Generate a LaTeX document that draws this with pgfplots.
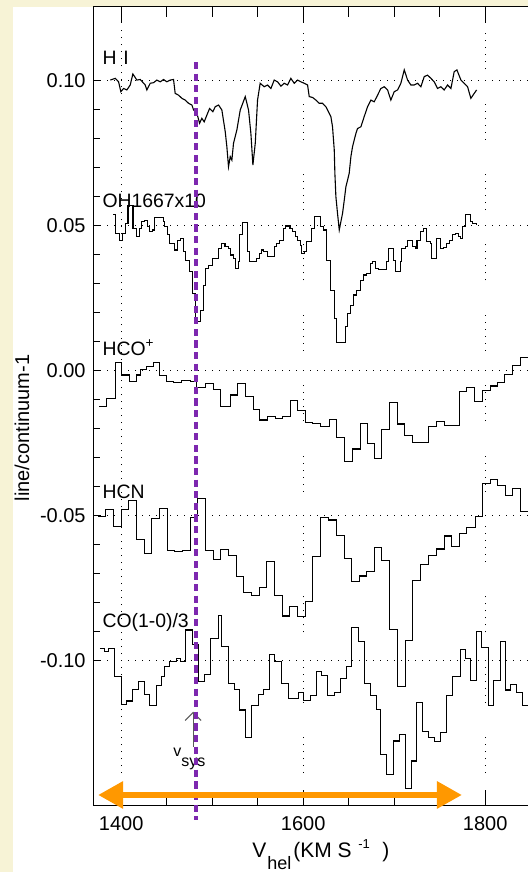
\documentclass[border=0pt]{standalone}
\usepackage{pgfplots}
\pgfplotsset{compat=1.18}
\usepackage{fontspec}
\setmainfont{Liberation Sans}
\usetikzlibrary{arrows.meta}

\definecolor{paper}{RGB}{247,243,214}
\definecolor{vsysline}{RGB}{125,40,175}
\definecolor{rangearrow}{RGB}{255,152,0}

\tikzset{
  dotgrid/.style={black, line width=0.5pt, dash pattern=on 0.5pt off 3pt},
  groupgrid/.style={black, line width=0.5pt,
    dash pattern=on 0.5pt off 3pt on 0.5pt off 3pt on 0.5pt off 3pt on 0.5pt off 3pt on 0.5pt off 3pt on 0.5pt off 17.2pt},
}
\pgfplotsset{
  specaxis/.style={
    at={(46.5pt,33pt)}, anchor=south west,
    scale only axis, width=217.5pt, height=399.5pt,
    xmin=1369, xmax=1847, ymin=-0.1502, ymax=0.1253,
    axis line style={black, line width=0.5pt},
    tick style={black, line width=0.55pt},
  },
}

\begin{document}
\begin{tikzpicture}
\fill[paper] (0,0) rectangle (264pt,436pt);
\fill[white] (6.5pt,0) rectangle (264pt,432.5pt);

% velocity axis ticks and labels (drawn first, under the spectra)
\begin{axis}[specaxis,
  hide y axis,
  axis x line*=box,
  xtick={1400,1600,1800}, xticklabels={1400,1600,1800},
  minor x tick num=3,
  major tick length=8pt, minor tick length=5pt,
  xticklabel style={font=\fontsize{10}{12}\selectfont, inner sep=0pt, yshift=-5pt},
]
\end{axis}

% main axis: spectra, y ticks and grid
\begin{axis}[specaxis,
  axis x line*=box, axis y line*=left,
  xtick=\empty,
  ytick={-0.10,-0.05,0,0.05,0.10},
  yticklabels={-0.10,-0.05,0.00,0.05,0.10},
  minor y tick num=4,
  major tick length=4pt, minor tick length=3.5pt,
  ymajorgrids,
  major grid style={dotgrid},
  yticklabel style={font=\fontsize{10}{12}\selectfont, inner sep=0pt, xshift=-3.5pt},
  clip mode=individual,
  every axis plot/.append style={black, line width=0.55pt},
]
\draw[dotgrid] (axis cs:1400,-0.1389) -- (axis cs:1400,0.1184);
\draw[groupgrid] (axis cs:1600,-0.1389) -- (axis cs:1600,0.1167);
\draw[groupgrid] (axis cs:1800,-0.1389) -- (axis cs:1800,0.1167);

% H I
\addplot[sharp plot] table {
1388 0.1001
1393.4 0.1007
1397.1 0.0995
1399.6 0.0961
1402.6 0.0972
1406.2 0.0967
1409.9 0.0984
1412.8 0.1022
1417.2 0.1001
1420.9 0.1003
1426.4 0.0984
1428.2 0.0967
1431.9 0.0990
1435.5 0.0992
1439.2 0.1001
1442.9 0.0995
1446.5 0.1003
1450.2 0.0995
1453.8 0.1001
1457.5 0.1003
1459.3 0.0955
1463.0 0.0949
1466.7 0.0938
1470.3 0.0932
1474.0 0.0921
1477.7 0.0915
1479.5 0.0898
1483.2 0.0886
1486.1 0.0852
1488.6 0.0869
1491.2 0.0857
1494.1 0.0880
1497.1 0.0903
1500.7 0.0892
1503.3 0.0909
1507.0 0.0915
1510.6 0.0898
1514.3 0.0823
1516.1 0.0771
1517.9 0.0702
1519.8 0.0737
1521.6 0.0725
1523.4 0.0783
1527.1 0.0829
1530.8 0.0898
1536.3 0.0944
1539.9 0.0898
1542.5 0.0817
1544.7 0.0708
1547.3 0.0783
1549.8 0.0932
1552.7 0.0990
1557.1 0.0978
1560.8 0.0984
1564.5 0.0972
1568.1 0.1001
1571.8 0.0995
1575.5 0.0980
1579.1 0.0990
1582.8 0.0984
1586.4 0.1007
1590.1 0.0990
1593.8 0.1001
1597.4 0.0995
1601.1 0.0990
1604.8 0.0984
1606.6 0.0944
1610.3 0.0941
1613.9 0.0932
1617.6 0.0921
1621.2 0.0921
1624.9 0.0909
1626.7 0.0898
1630.4 0.0875
1632.2 0.0840
1634.1 0.0760
1634.8 0.0679
1635.9 0.0599
1637.7 0.0541
1639.6 0.0484
1641.4 0.0513
1643.2 0.0541
1645.1 0.0587
1646.9 0.0633
1650.5 0.0679
1652.4 0.0737
1654.2 0.0771
1656.0 0.0794
1657.9 0.0817
1659.7 0.0834
1663.4 0.0840
1667.0 0.0875
1670.7 0.0909
1674.4 0.0932
1678.0 0.0926
1681.7 0.0949
1685.3 0.0972
1689.0 0.0978
1692.7 0.0967
1696.3 0.0932
1700.0 0.0961
1703.7 0.0967
1707.3 0.0990
1711.0 0.1036
1714.7 0.1001
1718.3 0.0984
1722.0 0.0984
1725.6 0.0990
1729.3 0.0978
1733.0 0.1013
1736.6 0.1018
1740.3 0.1007
1743.9 0.0995
1747.6 0.0972
1751.3 0.0978
1754.9 0.0967
1758.6 0.0984
1762.3 0.0972
1765.9 0.1030
1768.9 0.1036
1773.3 0.1001
1776.9 0.0990
1780.6 0.0978
1784.2 0.0938
1787.9 0.0955
1790.5 0.0967
};

% OH 1667 x 10
\addplot[const plot] table {
1391 0.0539
1394 0.0472
1398 0.0449
1401.5 0.0472
1404.5 0.0507
1407.5 0.0570
1413 0.0490
1417 0.0461
1420 0.0490
1422.5 0.0513
1426 0.0518
1429 0.0495
1431.5 0.0478
1434.5 0.0484
1437 0.0527
1446 0.0513
1448 0.0495
1450.5 0.0467
1453.5 0.0438
1459 0.0415
1461.5 0.0449
1465 0.0455
1468 0.0409
1471 0.0380
1475.5 0.0340
1478.5 0.0265
1481.3 0.0179
1483 0.0168
1487 0.0208
1490 0.0294
1493 0.0351
1496 0.0363
1500 0.0386
1506.6 0.0420
1510 0.0438
1514 0.0426
1517.6 0.0420
1520 0.0398
1523 0.0386
1526 0.0351
1528.6 0.0374
1530.4 0.0467
1533.3 0.0509
1538.5 0.0409
1541.4 0.0374
1548.7 0.0386
1551.6 0.0403
1554.2 0.0415
1556.8 0.0409
1560.4 0.0392
1568.9 0.0426
1570.7 0.0438
1574.4 0.0449
1578 0.0490
1581 0.0498
1585.5 0.0490
1588.6 0.0478
1591.2 0.0461
1593.8 0.0449
1596.7 0.0432
1598.5 0.0403
1601 0.0409
1604 0.0444
1609.5 0.0490
1612 0.0530
1618.7 0.0495
1622.3 0.0484
1626 0.0380
1629.7 0.0276
1634 0.0179
1637 0.0096
1646 0.0151
1648.7 0.0197
1651.6 0.0225
1655.3 0.0260
1658.2 0.0276
1662.6 0.0311
1666.3 0.0329
1670 0.0334
1673.6 0.0369
1676.6 0.0374
1679 0.0351
1682.8 0.0348
1691.2 0.0374
1693.8 0.0420
1699.3 0.0380
1701 0.0340
1706.6 0.0374
1708.4 0.0420
1712 0.0426
1714.7 0.0449
1720.5 0.0426
1723 0.0420
1725 0.0449
1728.6 0.0478
1732.2 0.0490
1735.2 0.0444
1739.6 0.0438
1741.4 0.0386
1746.2 0.0455
1751.3 0.0420
1754.2 0.0423
1757 0.0438
1760.8 0.0449
1764.5 0.0467
1767 0.0472
1770.7 0.0461
1773.3 0.0455
1775.5 0.0495
1778 0.0536
1783.5 0.0513
1786.4 0.0507
1790 0.0501
};

% HCO+
\addplot[const plot] table {
1376 -0.0125
1384 -0.0096
1393.4 0.0027
1400.7 -0.0016
1409.2 -0.0039
1417.2 -0.0016
1421 0.0002
1428.2 0.0013
1435.5 0.0027
1442.1 -0.0019
1450.2 -0.0039
1457.5 -0.0042
1466.7 -0.0035
1475.8 -0.0039
1483.2 -0.0058
1492.3 -0.0044
1501.5 -0.0065
1509.5 -0.0123
1519.8 -0.0085
1527.8 -0.0044
1536.3 -0.0090
1545.4 -0.0136
1552 -0.0171
1560.8 -0.0160
1570 -0.0166
1577.3 -0.0160
1586.4 -0.0105
1593.8 -0.0137
1602.9 -0.0181
1610.3 -0.0183
1619.4 -0.0192
1628.6 -0.0169
1637 -0.0231
1645.1 -0.0315
1654.2 -0.0271
1662.6 -0.0183
1670.7 -0.0252
1678.8 -0.0304
1686.4 -0.0204
1694.9 -0.0110
1703.7 -0.0185
1711.7 -0.0223
1720.5 -0.0249
1738.1 -0.0192
1746.5 -0.0177
1754.9 -0.0189
1771.4 -0.0074
1779.5 -0.0059
1788.3 -0.0108
1797.1 -0.0068
1805.5 -0.0054
1813.6 -0.0043
1821.6 -0.0013
1830 0.0018
1838.5 0.0045
1847 0.0045
};

% HCN
\addplot[const plot] table {
1374.7 -0.0505
1383.2 -0.0479
1391.6 -0.0539
1400.0 -0.0479
1408.4 -0.0449
1416.8 -0.0583
1425.3 -0.0631
1433.7 -0.0511
1442.1 -0.0476
1450.5 -0.0620
1459.0 -0.0625
1467.4 -0.0620
1475.8 -0.0507
1484.2 -0.0441
1492.7 -0.0620
1501.1 -0.0652
1509.5 -0.0617
1517.9 -0.0637
1526.4 -0.0712
1534.8 -0.0767
1543.2 -0.0775
1551.6 -0.0749
1560.1 -0.0660
1568.5 -0.0775
1576.9 -0.0847
1585.3 -0.0815
1593.8 -0.0850
1602.2 -0.0798
1610.6 -0.0642
1619.4 -0.0507
1627.8 -0.0516
1636.3 -0.0568
1645.1 -0.0648
1653.5 -0.0729
1661.9 -0.0709
1670.0 -0.0694
1678.0 -0.0612
1686.4 -0.0654
1694.9 -0.0893
1703.7 -0.1091
1712.1 -0.0930
1720.5 -0.0723
1729.3 -0.0668
1737.7 -0.0637
1746.2 -0.0616
1755.0 -0.0571
1763.4 -0.0608
1771.8 -0.0562
1779.9 -0.0541
1789.0 -0.0505
1797.4 -0.0390
1805.5 -0.0376
1813.6 -0.0396
1822.0 -0.0430
1830.4 -0.0407
1839.2 -0.0488
1847 -0.0488
};

% CO(1-0) / 3
\addplot[const plot] table {
1376.6 -0.0959
1382.1 -0.0968
1385.7 -0.0959
1393.0 -0.1056
1400.4 -0.1152
1405.9 -0.1140
1412.5 -0.1099
1418.7 -0.1073
1426.0 -0.1117
1431.5 -0.1156
1438.8 -0.1085
1444.3 -0.1054
1448.0 -0.1022
1452.7 -0.1005
1460.8 -0.0993
1465.2 -0.1005
1471.1 -0.0895
1478.4 -0.0945
1484.6 -0.1073
1491.9 -0.1048
1498.2 -0.0924
1506.6 -0.0844
1510.3 -0.0953
1517.6 -0.1079
1524.9 -0.1099
1530.4 -0.1171
1537.0 -0.1267
1543.2 -0.1156
1550.5 -0.1117
1556.0 -0.1099
1562.6 -0.0980
1568.9 -0.1005
1576.2 -0.1079
1583.5 -0.1131
1594.9 -0.1110
1600.4 -0.1137
1607.7 -0.1120
1614.3 -0.1039
1620.5 -0.1053
1626.7 -0.1122
1634.1 -0.1110
1640.7 -0.1062
1647.3 -0.1022
1653.5 -0.0888
1660.8 -0.0934
1667.0 -0.1079
1673.6 -0.1122
1680.2 -0.1169
1685.3 -0.1324
1691.9 -0.1393
1699.3 -0.1278
1705.9 -0.1255
1712.1 -0.1441
1719.4 -0.1347
1724.9 -0.1146
1731.5 -0.1244
1737.7 -0.1267
1743.9 -0.1281
1751.3 -0.1248
1757.9 -0.1120
1764.5 -0.1056
1772.5 -0.0961
1778.0 -0.0993
1784.2 -0.1068
1790.8 -0.0899
1796.3 -0.0957
1803.7 -0.1154
1809.2 -0.1068
1816.5 -0.0934
1822.0 -0.1102
1828.2 -0.1082
1834.8 -0.1110
1841.4 -0.1154
1847 -0.1154
};

% line names
\begin{scope}[every node/.style={anchor=base west, inner sep=0pt, font=\fontsize{9.7}{11}\selectfont}]
\node at (axis cs:1379,0.1053) {H\hspace{3.5pt}I};
\node at (axis cs:1379,0.0563) {OH1667x10};
\node at (axis cs:1379,0.0053) {HCO\textsuperscript{+}};
\node at (axis cs:1379,-0.0441) {HCN};
\node at (axis cs:1379,-0.0885) {CO(1-0)/3};
\end{scope}

% systemic velocity
\draw[black!65, line width=0.5pt, -{Straight Barb[length=4pt,width=8pt]}]
  (axis cs:1479,-0.1298) -- (axis cs:1479,-0.1177);
\node[anchor=base west, inner sep=0pt, font=\fontsize{8}{9.6}\selectfont]
  at (axis cs:1457,-0.1330) {v\raisebox{-5pt}{sys}};
\draw[vsysline, line width=2.2pt, dash pattern=on 3.6pt off 2.2pt]
  (axis cs:1482.5,0.1063) -- (axis cs:1482.5,-0.1551);

% velocity range
\draw[rangearrow, line width=3pt,
  {Triangle[length=12.5pt,width=13pt]}-{Triangle[length=12.5pt,width=13pt]}]
  (axis cs:1374.6,-0.1464) -- (axis cs:1774.4,-0.1464);
\end{axis}

\node[rotate=90, inner sep=0pt, font=\fontsize{10}{12}\selectfont] at (11pt,222pt) {line/continuum-1};
\begin{scope}[every node/.style={anchor=base west, inner sep=0pt}]
\node[font=\fontsize{10.5}{12}\selectfont] at (126pt,7pt) {V};
\node[font=\fontsize{9}{11}\selectfont] at (133.5pt,1.5pt) {hel};
\node[font=\fontsize{10.5}{12}\selectfont] at (146.5pt,7pt) {(KM S};
\node[font=\fontsize{6.5}{8}\selectfont] at (179pt,12pt) {-1};
\node[font=\fontsize{10.5}{12}\selectfont] at (191pt,7pt) {)};
\end{scope}

\pgfresetboundingbox
\path[use as bounding box] (0,0) rectangle (264pt,436pt);
\end{tikzpicture}
\end{document}
